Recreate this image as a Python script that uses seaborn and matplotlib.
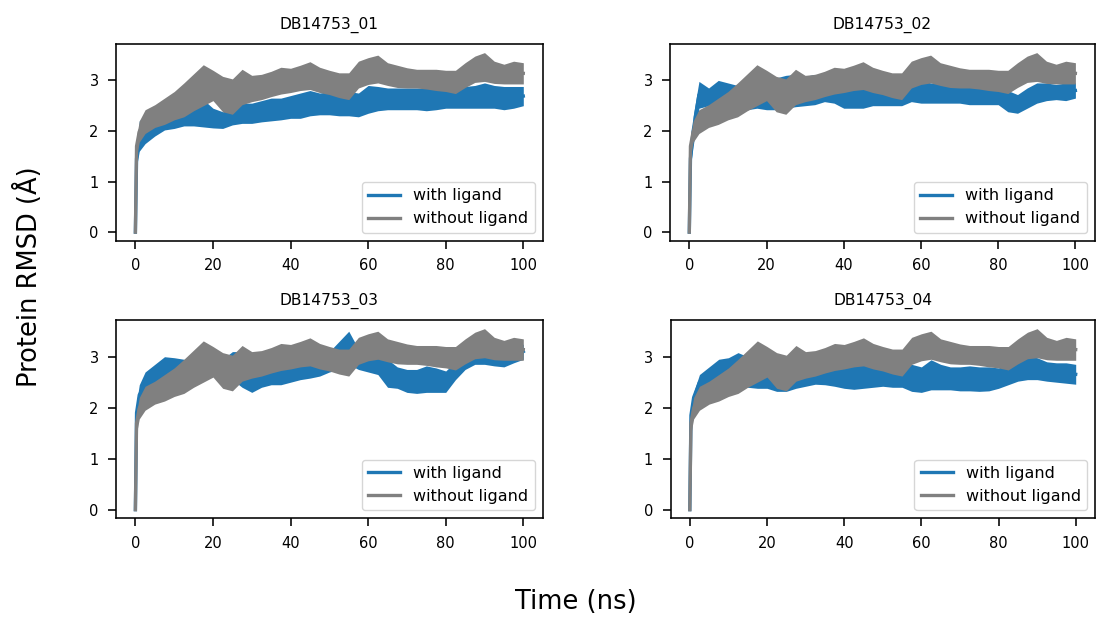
import matplotlib
matplotlib.use("Agg")
import matplotlib.pyplot as plt
from matplotlib.lines import Line2D
import pandas as pd
import seaborn as sns

# ---------------- data ----------------
TIME = [0, 0.3, 1, 2.5, 5, 7.5, 10, 12.5, 15, 17.5,
        20, 22.5, 25, 27.5, 30, 32.5, 35, 37.5, 40, 42.5,
        45, 47.5, 50, 52.5, 55, 57.5, 60, 62.5, 65, 67.5,
        70, 72.5, 75, 77.5, 80, 82.5, 85, 87.5, 90, 92.5,
        95, 97.5, 100]

RUNS = ["DB14753_01", "DB14753_02", "DB14753_03", "DB14753_04"]
SERIES = ["with ligand", "without ligand"]

# without ligand (same apo trajectory in every panel): lower / upper envelope
NOLIG_LO = [0, 1.5, 1.78, 1.95, 2.07, 2.13, 2.22, 2.28, 2.4, 2.5,
            2.6, 2.38, 2.33, 2.52, 2.58, 2.62, 2.68, 2.73, 2.76, 2.8,
            2.82, 2.76, 2.72, 2.66, 2.62, 2.85, 2.92, 2.95, 2.9, 2.86,
            2.85, 2.85, 2.83, 2.8, 2.78, 2.74, 2.86, 2.96, 2.98, 2.94,
            2.93, 2.93, 2.93]
NOLIG_HI = [0, 1.9, 2.2, 2.42, 2.52, 2.65, 2.78, 2.95, 3.13, 3.31,
            3.2, 3.08, 3.03, 3.22, 3.1, 3.12, 3.18, 3.26, 3.24, 3.3,
            3.37, 3.26, 3.2, 3.15, 3.15, 3.38, 3.45, 3.5, 3.35, 3.3,
            3.25, 3.22, 3.22, 3.22, 3.2, 3.2, 3.35, 3.48, 3.55, 3.38,
            3.32, 3.38, 3.35]

# with ligand, per run: lower / upper envelope
LIG01_LO = [0, 1.3, 1.6, 1.75, 1.9, 2.02, 2.05, 2.1, 2.1, 2.08,
            2.06, 2.05, 2.12, 2.15, 2.15, 2.18, 2.2, 2.22, 2.25, 2.25,
            2.3, 2.32, 2.32, 2.3, 2.3, 2.28, 2.35, 2.4, 2.42, 2.42,
            2.42, 2.42, 2.4, 2.42, 2.45, 2.45, 2.45, 2.45, 2.45, 2.45,
            2.42, 2.45, 2.5]
LIG01_HI = [0, 1.6, 2.2, 2.3, 2.2, 2.25, 2.3, 2.4, 2.5, 2.62,
            2.45, 2.38, 2.42, 2.55, 2.55, 2.6, 2.65, 2.65, 2.7, 2.75,
            2.8, 2.75, 2.78, 2.8, 2.78, 2.75, 2.9, 2.88, 2.85, 2.85,
            2.85, 2.85, 2.85, 2.82, 2.8, 2.85, 2.88, 2.9, 2.95, 2.9,
            2.88, 2.88, 2.88]

LIG02_LO = [0, 1.3, 1.7, 2.45, 2.5, 2.52, 2.48, 2.45, 2.42, 2.45,
            2.42, 2.42, 2.45, 2.48, 2.5, 2.52, 2.58, 2.55, 2.45, 2.45,
            2.45, 2.5, 2.5, 2.5, 2.5, 2.58, 2.55, 2.55, 2.55, 2.55,
            2.55, 2.52, 2.52, 2.52, 2.52, 2.38, 2.35, 2.45, 2.55, 2.6,
            2.62, 2.6, 2.65]
LIG02_HI = [0, 1.6, 2.3, 2.98, 2.85, 3.0, 2.95, 2.9, 2.85, 2.9,
            2.9, 3.05, 3.1, 3.12, 3.08, 3.12, 3.0, 2.95, 2.92, 2.88,
            2.9, 2.85, 2.82, 2.85, 2.85, 3.15, 3.0, 2.95, 2.95, 2.92,
            2.88, 2.88, 2.9, 2.88, 2.85, 2.8, 2.72, 2.85, 2.95, 2.95,
            2.92, 2.95, 2.95]

LIG03_LO = [0, 1.7, 2.05, 2.2, 2.35, 2.42, 2.48, 2.55, 2.6, 2.65,
            2.68, 2.6, 2.55, 2.4, 2.3, 2.4, 2.45, 2.45, 2.5, 2.55,
            2.58, 2.62, 2.7, 2.75, 2.85, 2.75, 2.7, 2.65, 2.4, 2.38,
            2.3, 2.28, 2.3, 2.3, 2.3, 2.55, 2.75, 2.85, 2.85, 2.82,
            2.8, 2.88, 2.95]
LIG03_HI = [0, 2.1, 2.45, 2.7, 2.85, 3.0, 2.98, 2.95, 2.92, 2.9,
            2.9, 2.95, 3.1, 3.1, 2.85, 2.85, 2.8, 2.85, 2.9, 2.95,
            2.95, 3.0, 3.1, 3.3, 3.5, 3.15, 3.05, 3.0, 2.95, 2.8,
            2.75, 2.75, 2.82, 2.78, 2.72, 2.9, 3.0, 3.05, 3.0, 3.0,
            3.0, 3.1, 3.25]

LIG04_LO = [0, 1.7, 2.1, 2.35, 2.45, 2.5, 2.5, 2.48, 2.4, 2.38,
            2.38, 2.32, 2.32, 2.38, 2.42, 2.46, 2.45, 2.42, 2.38, 2.36,
            2.38, 2.4, 2.42, 2.4, 2.4, 2.32, 2.3, 2.35, 2.35, 2.35,
            2.33, 2.33, 2.32, 2.33, 2.38, 2.45, 2.52, 2.55, 2.55, 2.52,
            2.5, 2.48, 2.46]
LIG04_HI = [0, 2.0, 2.3, 2.65, 2.8, 2.95, 2.98, 3.08, 3.0, 2.95,
            2.9, 2.92, 2.97, 2.92, 2.88, 2.85, 2.88, 2.85, 2.85, 2.82,
            2.85, 2.85, 2.85, 2.9, 3.1, 2.85, 2.8, 2.94, 2.85, 2.8,
            2.8, 2.82, 2.8, 2.8, 2.78, 2.85, 3.0, 3.02, 2.98, 2.9,
            2.88, 2.88, 2.85]

X_TICKS = [0, 20, 40, 60, 80, 100]
Y_TICKS = [0, 1, 2, 3]

# ---------------- styling ----------------
COLORS = {"with ligand": "#1f77b4", "without ligand": "#808080"}
LW = 2.4
TICK_FS = 10.5
TITLE_FS = 11.2
LEG_FS = 11.5
SUP_FS = 18.5

plt.rcParams.update({
    "font.family": ["DejaVu Sans"],
    "xtick.labelsize": TICK_FS,
    "ytick.labelsize": TICK_FS,
    "xtick.major.size": 6,
    "ytick.major.size": 6,
    "xtick.major.width": 1.15,
    "ytick.major.width": 1.15,
    "xtick.major.pad": 6.5,
    "ytick.major.pad": 6.5,
    "axes.linewidth": 1.15,
    "axes.edgecolor": "black",
})

W, H = 1096, 620
# axes rectangles in pixels: (left, top, right, bottom)
PIX = [(116, 44, 542.7, 240.7),
       (670, 44, 1094.7, 240.7),
       (116, 320, 542.7, 518.3),
       (670.5, 320, 1095, 518.3)]

fig = plt.figure(figsize=(W / 100, H / 100), dpi=100)

lig = [(LIG01_LO, LIG01_HI), (LIG02_LO, LIG02_HI),
       (LIG03_LO, LIG03_HI), (LIG04_LO, LIG04_HI)]

for run, (lo, hi), (l, t, r, b) in zip(RUNS, lig, PIX):
    ax = fig.add_axes([l / W, 1 - b / H, (r - l) / W, (b - t) / H])
    for z, (name, slo, shi) in enumerate([(SERIES[0], lo, hi),
                                          (SERIES[1], NOLIG_LO, NOLIG_HI)]):
        rows = []
        for tt, a, c in zip(TIME, slo, shi):
            rows.append((tt, a))
            rows.append((tt, c))
        df = pd.DataFrame(rows, columns=["time", "rmsd"])
        sns.lineplot(data=df, x="time", y="rmsd", color=COLORS[name],
                     estimator="mean", errorbar=("pi", 100),
                     err_kws={"alpha": 1, "linewidth": 0, "zorder": 2 + z},
                     linewidth=LW, zorder=2 + z, ax=ax)
    ax.set_xlabel("")
    ax.set_ylabel("")
    ax.set_xlim(-5, 105)
    ax.set_ylim(-0.17, 3.72)
    ax.set_xticks(X_TICKS)
    ax.set_yticks(Y_TICKS)
    ax.set_xticklabels([str(v) for v in X_TICKS], fontsize=TICK_FS)
    ax.set_yticklabels([str(v) for v in Y_TICKS], fontsize=TICK_FS)
    ax.set_title(run, fontsize=TITLE_FS, pad=11)
    handles = [Line2D([0], [0], color=COLORS[s], lw=LW) for s in SERIES]
    leg = ax.legend(handles, SERIES, loc="lower right", fontsize=LEG_FS)
    leg.set_zorder(10)

fig.text(575.8 / W, 1 - 602 / H, "Time (ns)", ha="center", va="center",
         fontsize=SUP_FS)
fig.text(28 / W, 1 - 277 / H, "Protein RMSD (Å)", rotation=90, ha="center",
         va="center", fontsize=SUP_FS)

fig.savefig("out.png", dpi=100)
